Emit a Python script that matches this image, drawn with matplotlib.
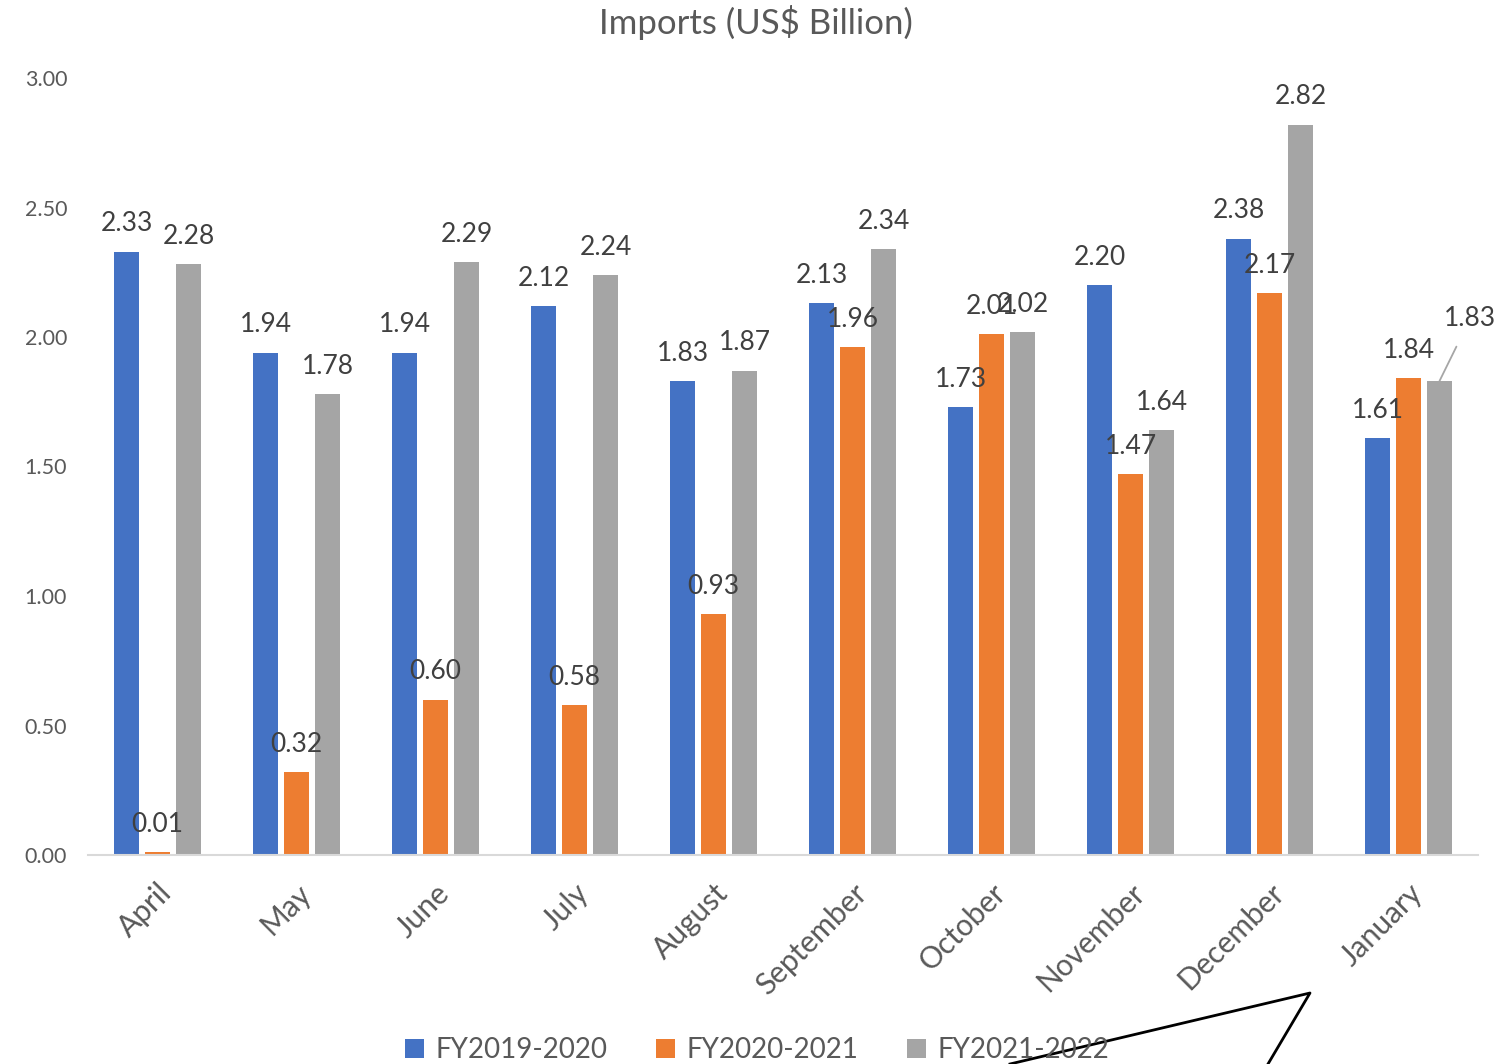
import numpy as np
import matplotlib
matplotlib.use("Agg")
import matplotlib.pyplot as plt
from matplotlib.lines import Line2D

months = ["April", "May", "June", "July", "August", "September",
          "October", "November", "December", "January"]
fy1920 = [2.33, 1.94, 1.94, 2.12, 1.83, 2.13, 1.73, 2.20, 2.38, 1.61]
fy2021 = [0.01, 0.32, 0.60, 0.58, 0.93, 1.96, 2.01, 1.47, 2.17, 1.84]
fy2122 = [2.28, 1.78, 2.29, 2.24, 1.87, 2.34, 2.02, 1.64, 2.82, 1.83]
series_names = ["FY2019-2020", "FY2020-2021", "FY2021-2022"]
colors = ["#4472C4", "#ED7D31", "#A5A5A5"]

plt.rcParams["font.family"] = ["Lato", "DejaVu Sans"]

fig = plt.figure(figsize=(14.99, 10.64), dpi=100)
ax = fig.add_axes([88/1499, 1-855/1064, (1478-88)/1499, (855-78)/1064])

x = np.arange(len(months))
w = 0.173
step = 0.223
all_series = [fy1920, fy2021, fy2122]
for i, (vals, c, name) in enumerate(zip(all_series, colors, series_names)):
    pos = x + (i - 1) * step
    ax.bar(pos, vals, width=w, color=c, label=name)
    for j, (p, v) in enumerate(zip(pos, vals)):
        if i == 2 and j == len(months) - 1:
            # January FY2021-2022 label moved aside with a leader line
            ax.annotate(f"{v:.2f}", xy=(p, v), xytext=(p + 0.22, v + 0.24),
                        ha="center", va="center", fontsize=19, color="#404040",
                        arrowprops=dict(arrowstyle="-", color="#A6A6A6", lw=1.3,
                                        shrinkA=10, shrinkB=0))
            continue
        ax.annotate(f"{v:.2f}", xy=(p, v), xytext=(0, 20), textcoords="offset points",
                    ha="center", va="center", fontsize=19, color="#404040")

ax.set_xlim(-0.5, len(months) - 0.5)
ax.set_ylim(0, 3.0)
ax.set_yticks(np.arange(0, 3.01, 0.5))
ax.set_yticklabels([f"{t:.2f}" for t in np.arange(0, 3.01, 0.5)])
ax.set_xticks(x)
ax.set_xticklabels(months, rotation=45, ha="right", va="top", rotation_mode="anchor")
ax.tick_params(axis="both", length=0, colors="#595959")
ax.tick_params(axis="y", labelsize=15.5, pad=15)
ax.tick_params(axis="x", labelsize=21.5, pad=17)
for s in ["top", "right", "left"]:
    ax.spines[s].set_visible(False)
ax.spines["bottom"].set_color("#D9D9D9")
ax.spines["bottom"].set_linewidth(1.5)

fig.text(756/1499, 1-23/1064, "Imports (US$ Billion)", ha="center", va="center",
         fontsize=25, color="#595959")

fig.legend(loc="center", bbox_to_anchor=(757/1499, 1-1050/1064), ncol=3, frameon=False,
           fontsize=20, labelcolor="#595959", handlelength=0.7, handleheight=0.7,
           handletextpad=0.4, columnspacing=1.75)

# stray callout shape at the bottom right
fig.add_artist(Line2D([1010/1499, 1310/1499, 1268/1499],
                      [1-1064/1064, 1-993/1064, 1-1064/1064],
                      transform=fig.transFigure, color="black", lw=2))

fig.savefig("out.png", dpi=100)
